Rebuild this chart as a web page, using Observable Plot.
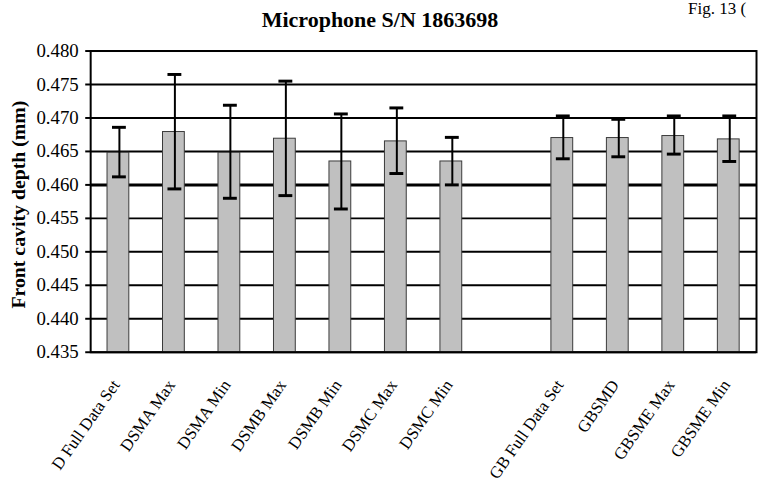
<!DOCTYPE html>
<html><head><meta charset="utf-8">
<script src="https://cdn.jsdelivr.net/npm/d3@7"></script>
<script src="https://cdn.jsdelivr.net/npm/@observablehq/plot@0.6"></script>
<style>
html,body{margin:0;padding:0;overflow:hidden;background:#fff;}
#wrap{position:relative;width:758px;height:487px;overflow:hidden;}
#chart{position:absolute;left:0;top:0;}
.t{position:absolute;font-family:"Liberation Serif",serif;line-height:1;white-space:nowrap;color:#000;}
g[aria-label^="y-axis"] line, g[aria-label^="y-axis"] path{stroke-width:2px;}
</style></head><body>
<div id="wrap">
<div id="chart"></div>
<div class="t" style="left:0;width:760px;text-align:center;top:9px;font-size:22px;font-weight:bold;">Microphone S/N 1863698</div>
<div class="t" style="left:688px;top:0px;font-size:17px;">Fig. 13 (</div>
</div>
<script>
const categories = ["D Full Data Set", "DSMA Max", "DSMA Min", "DSMB Max", "DSMB Min", "DSMC Max", "DSMC Min",
                    "GB Full Data Set", "GBSMD", "GBSME Max", "GBSME Min"];
const means   = [0.4648, 0.4679, 0.4648, 0.4669, 0.4635, 0.4665, 0.4635, 0.4670, 0.4670, 0.4673, 0.4668];
const errHigh = [0.4686, 0.4765, 0.4719, 0.4755, 0.4706, 0.4715, 0.4671, 0.4703, 0.4698, 0.4703, 0.4703];
const errLow  = [0.4612, 0.4594, 0.4580, 0.4584, 0.4564, 0.4617, 0.4600, 0.4639, 0.4642, 0.4646, 0.4635];
const yTicks  = [0.435, 0.440, 0.445, 0.450, 0.455, 0.460, 0.465, 0.470, 0.475, 0.480];
const yLabel  = "Front cavity depth (mm)";
const gapKey  = " ";

const rows = categories.map((c, i) => ({cat: c, mean: means[i], hi: errHigh[i], lo: errLow[i]}));
const domain = [...categories.slice(0, 7), gapKey, ...categories.slice(7)];

const chart = Plot.plot({
  width: 765,
  height: 487,
  marginTop: 51,
  marginBottom: 132,
  marginLeft: 91,
  marginRight: 2,
  style: {fontFamily: "'Liberation Serif', serif", fontSize: "19px", color: "#000", background: "#fff"},
  x: {domain, paddingInner: 0.6, paddingOuter: 0.3, align: 0.5, axis: null},
  y: {domain: [yTicks[0], yTicks[yTicks.length - 1]], ticks: yTicks, tickFormat: d => d.toFixed(3),
      tickSize: 5, tickPadding: 7, label: null},
  marks: [
    Plot.ruleY(yTicks, {stroke: "#000", strokeWidth: d => Math.abs(d - 0.46) < 1e-9 ? 3 : 2}),
    Plot.barY(rows, {x: "cat", y1: () => yTicks[0], y2: "mean", fill: "#c0c0c0", stroke: "#3a3a3a", strokeWidth: 1}),
    Plot.ruleX(rows, {x: "cat", y1: "lo", y2: "hi", stroke: "#000", strokeWidth: 2, dx: 1}),
    Plot.tickY(rows, {x: "cat", y: "hi", stroke: "#000", strokeWidth: 3, inset: 4, dx: 1}),
    Plot.tickY(rows, {x: "cat", y: "lo", stroke: "#000", strokeWidth: 3, inset: 4, dx: 1}),
    Plot.frame({stroke: "#000", strokeWidth: 2}),
    Plot.text(categories, {x: d => d, text: d => d, frameAnchor: "bottom", dy: 33, dx: 2, rotate: -55,
      textAnchor: "end", lineAnchor: "bottom", fontSize: 17, fill: "#000"}),
    Plot.text([yLabel], {text: d => d, frameAnchor: "left", dx: -66, dy: 3, rotate: -90,
      textAnchor: "middle", lineAnchor: "bottom", fontSize: 20, fontWeight: "bold", fill: "#000"})
  ]
});
document.getElementById("chart").appendChild(chart);
</script>
</body></html>
